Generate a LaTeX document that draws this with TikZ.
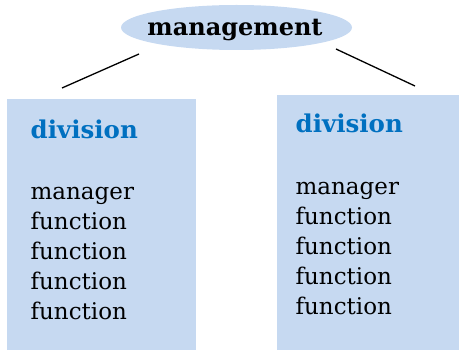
\documentclass[tikz,border=0pt]{standalone}
\usepackage{fontspec}
\setmainfont{DejaVu Serif}
\usetikzlibrary{shapes.geometric}
\definecolor{boxblue}{RGB}{198,217,241}
\definecolor{headblue}{RGB}{0,112,192}
\begin{document}
\begin{tikzpicture}[x=1pt, y=-1pt, line width=1.3pt,
    every node/.style={inner sep=0pt},
    txt/.style={anchor=base west, font=\fontsize{23}{23}\selectfont},
    head/.style={anchor=base west, text=headblue, font=\fontsize{24.5}{24.5}\selectfont\bfseries}]
  \useasboundingbox (0,0) rectangle (459,350);
  % top
  \node[ellipse, fill=boxblue, minimum width=231pt, minimum height=45pt] (mgmt) at (236.5,27.5) {};
  \node[anchor=base, font=\fontsize{24}{24}\selectfont\bfseries] (mgmttxt) at (235,36) {management};
  % connectors
  \coordinate (lTop) at (139,54);
  \coordinate (lEnd) at (62,88);
  \coordinate (rTop) at (336,49);
  \coordinate (rEnd) at (415,86);
  \draw (lTop) -- (lEnd);
  \draw (rTop) -- (rEnd);
  % boxes
  \fill[boxblue] (7,99) rectangle (196,350);
  \fill[boxblue] (277,95) rectangle (459,350);
  % left column
  \node[head] (divL) at (30,139) {division};
  \node[txt] (manL) at (30,200) {manager};
  \node[txt] (fL1) at (30,230) {function};
  \node[txt] (fL2) at (30,260) {function};
  \node[txt] (fL3) at (30,290) {function};
  \node[txt] (fL4) at (30,320) {function};
  % right column
  \node[head] (divR) at (295,133) {division};
  \node[txt] (manR) at (295,195) {manager};
  \node[txt] (fR1) at (295,225) {function};
  \node[txt] (fR2) at (295,255) {function};
  \node[txt] (fR3) at (295,285) {function};
  \node[txt] (fR4) at (295,315) {function};
\end{tikzpicture}
\end{document}
